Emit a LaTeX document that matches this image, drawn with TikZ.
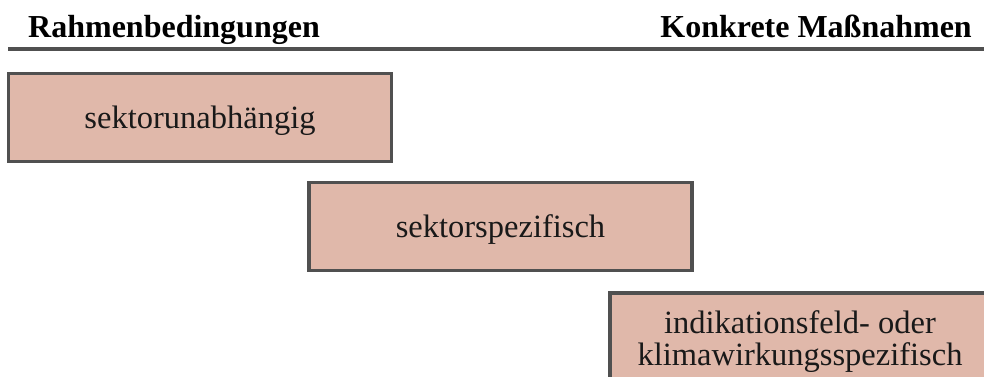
\documentclass[tikz,border=0pt]{standalone}
\usepackage{fontspec}
\setmainfont{Liberation Serif}
\definecolor{boxfill}{RGB}{224,184,170}
\definecolor{boxline}{RGB}{80,80,80}
\tikzset{
  stagebox/.style={draw=boxline, line width=3.5pt, fill=boxfill, rectangle,
    inner sep=0pt, minimum width=383pt, minimum height=88pt,
    text height=28pt, text depth=7pt,
    font=\fontsize{32.5}{32}\selectfont, align=center, text=black!90},
  headtext/.style={font=\fontsize{32}{34}\bfseries\selectfont, inner sep=0pt, text=black}
}
\begin{document}
\begin{tikzpicture}[x=1pt,y=-1pt]
\useasboundingbox (0,0) rectangle (984,376);
\draw[boxline, line width=4.5pt] (8,49) -- (984,49);
\node[headtext, anchor=base west] (h1) at (28,37) {Rahmenbedingungen};
\node[headtext, anchor=base east] (h2) at (972,37) {Konkrete Maßnahmen};
\node[stagebox] (b1) at (200,117.5) {sektorunabhängig};
\node[stagebox] (b2) at (500.5,226.5) {sektorspezifisch};
\node[stagebox, minimum width=380pt, minimum height=90pt, text height=61pt, text depth=7pt] (b3) at (800,338) {indikationsfeld- oder\\klimawirkungsspezifisch};
\end{tikzpicture}
\end{document}
